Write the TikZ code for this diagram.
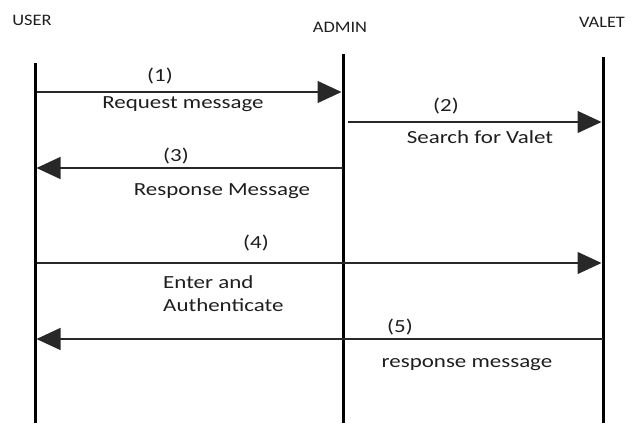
\documentclass[tikz,border=0pt]{standalone}
\usepackage{fontspec}
\setmainfont{Carlito}
\usetikzlibrary{arrows.meta}
\definecolor{txt}{RGB}{30,30,30}
\definecolor{msg}{RGB}{40,40,40}
\tikzset{
  lifeline/.style={line width=3pt, black},
  message/.style={line width=1.3pt, msg, -{Triangle[length=24pt,width=22pt]}},
  lbl/.style={inner sep=0pt, text=txt, font=\fontsize{18.5}{23}\selectfont, xscale=1.24, transform shape},
  head/.style={inner sep=0pt, text=txt, font=\fontsize{16}{18}\selectfont, xscale=1.15, transform shape}
}
\begin{document}
\begin{tikzpicture}[x=1pt,y=-1pt]
\useasboundingbox (0,0) rectangle (637,423);
% heads
\node[head] (user) at (32,20) {USER};
\node[head] (admin) at (340,27) {ADMIN};
\node[head] (valet) at (602,22) {VALET};
% lifelines
\coordinate (ut) at (35,63);  \coordinate (ub) at (35,423);
\coordinate (at) at (343,54); \coordinate (ab) at (343,423);
\coordinate (vt) at (603,57); \coordinate (vb) at (603,423);
\draw[lifeline] (ut) -- (ub);
\draw[lifeline] (at) -- (ab);
\draw[lifeline] (vt) -- (vb);
% message anchors
\coordinate (m1s) at (36.5,92);  \coordinate (m1e) at (341.5,92);
\coordinate (m2s) at (348,122);  \coordinate (m2e) at (601.5,122);
\coordinate (m3s) at (343,168);  \coordinate (m3e) at (36.5,168);
\coordinate (m4s) at (36.5,263); \coordinate (m4e) at (601.5,263);
\coordinate (m5s) at (603,339);  \coordinate (m5e) at (36.5,339);
\draw[message] (m1s) -- (m1e);
\draw[message] (m2s) -- (m2e);
\draw[message] (m3s) -- (m3e);
\draw[message] (m4s) -- (m4e);
\draw[message] (m5s) -- (m5e);
% labels
\node[lbl] (n1) at (160,76) {(1)};
\node[lbl] (t1) at (183,104) {Request message};
\node[lbl] (n2) at (446,106) {(2)};
\node[lbl] (t2) at (480,137) {Search for Valet};
\node[lbl] (n3) at (176,156) {(3)};
\node[lbl] (t3) at (222,191) {Response Message};
\node[lbl] (n4) at (256,243) {(4)};
\node[lbl, anchor=west, align=left] (t4) at (163,293.5) {Enter and\\Authenticate};
\node[lbl] (n5) at (400,327) {(5)};
\node[lbl] (t5) at (467,365) {response message};
\end{tikzpicture}
\end{document}
